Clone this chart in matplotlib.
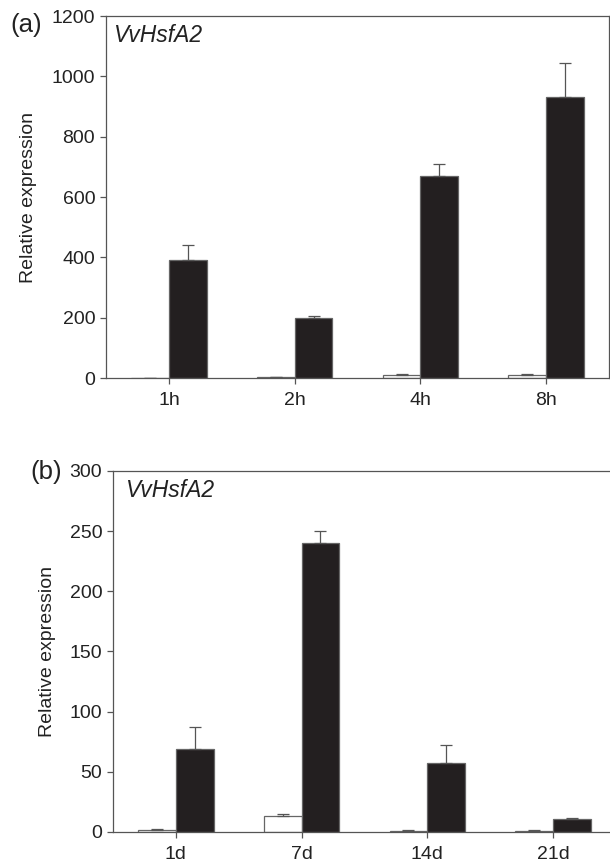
import matplotlib
matplotlib.use("Agg")
import matplotlib.pyplot as plt
import numpy as np

cats_a = ["1h", "2h", "4h", "8h"]
ctrl_a = [1, 2, 10, 10]
ctrl_a_err = [0, 0, 3, 3]
heat_a = [390, 200, 670, 930]
heat_a_err = [50, 5, 40, 115]

cats_b = ["1d", "7d", "14d", "21d"]
ctrl_b = [2, 13, 1, 1]
ctrl_b_err = [0.3, 2, 0.3, 0.3]
heat_b = [69, 240, 57, 11]
heat_b_err = [18, 10, 15, 1]

plt.rcParams['font.family'] = ['Liberation Sans', 'DejaVu Sans']
fig = plt.figure(figsize=(6.1, 8.67), dpi=100)

dark = "#231f20"
spine_c = "#555555"

def panel(rect, cats, ctrl, ctrl_err, heat, heat_err, ymax, step, label, lab_xy, ylab_x, title_x):
    ax = fig.add_axes(rect)
    x = np.arange(len(cats))
    w = 0.3
    ekw = dict(ecolor="#555555", elinewidth=0.9, capsize=4, capthick=0.9)
    ax.bar(x - w/2, ctrl, w, color="white", edgecolor="#666666", linewidth=0.9,
           yerr=[np.zeros(len(ctrl)), ctrl_err], error_kw=ekw)
    ax.bar(x + w/2, heat, w, color=dark, edgecolor="#666666", linewidth=0.9,
           yerr=[np.zeros(len(heat)), heat_err], error_kw=ekw)
    ax.set_xlim(-0.5, len(cats) - 0.5)
    ax.set_ylim(0, ymax)
    ax.set_yticks(np.arange(0, ymax + 1, step))
    ax.set_xticks(x)
    ax.set_xticklabels(cats)
    ax.tick_params(axis="both", labelsize=14, direction="out", color=spine_c,
                   length=4.3, width=0.9, labelcolor="#222222")
    ax.tick_params(axis="x", pad=6)
    ax.tick_params(axis="y", pad=3.5)
    for s in ax.spines.values():
        s.set_color(spine_c)
        s.set_linewidth(0.9)
    ax.set_ylabel("Relative expression", fontsize=14, color="#222222")
    ax.yaxis.set_label_coords(ylab_x, 0.5)
    ax.text(title_x, 0.977, "VvHsfA2", transform=ax.transAxes, fontsize=16.5,
            style="italic", va="top", ha="left", color="#222222")
    ax.text(lab_xy[0], lab_xy[1], label, transform=ax.transAxes, fontsize=18.5,
            va="center", ha="left", color="#222222")
    return ax

panel([0.1738, 0.5640, 0.8246, 0.4175], cats_a, ctrl_a, ctrl_a_err, heat_a, heat_a_err,
      1200, 200, "(a)", (-0.191, 0.975), -0.138, 0.014)
panel([0.1852, 0.0404, 0.8246, 0.4164], cats_b, ctrl_b, ctrl_b_err, heat_b, heat_b_err,
      300, 50, "(b)", (-0.165, 0.996), -0.114, 0.024)

fig.savefig("out.png", dpi=100)
